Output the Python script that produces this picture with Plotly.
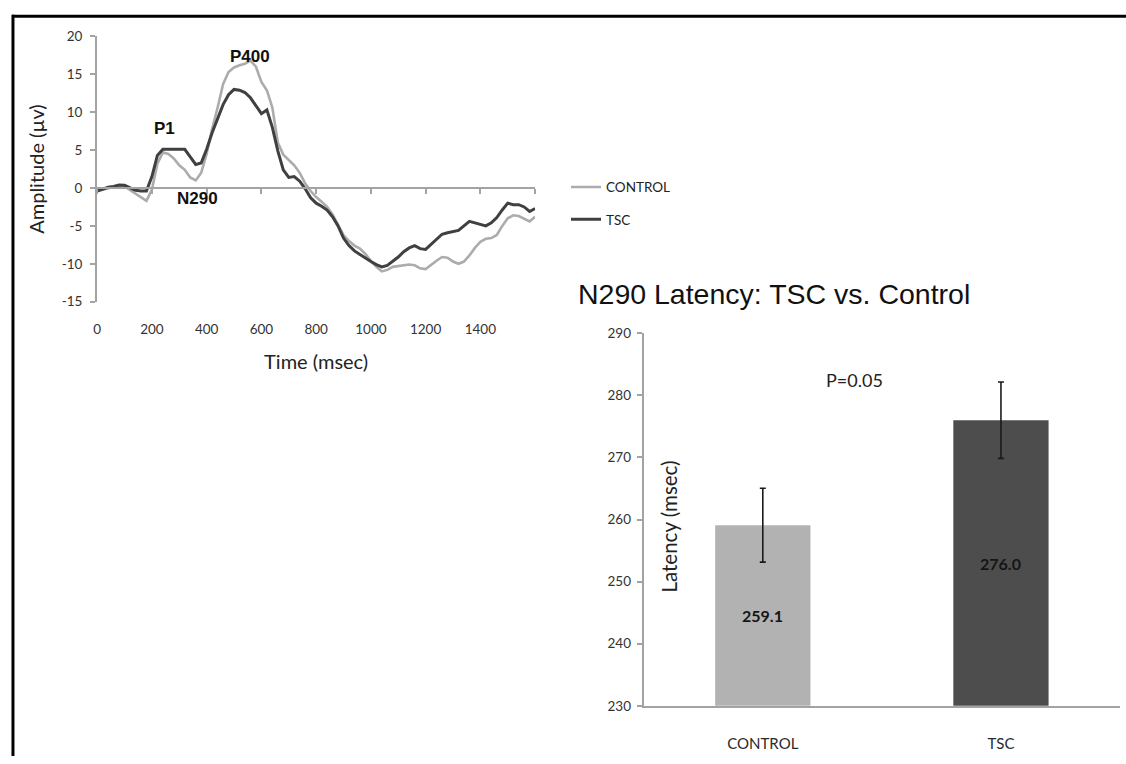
import plotly.graph_objects as go

W, H = 1126, 764

# ---------------- data ----------------
time_ms = list(range(0, 1601, 20))
control_uv = [
    -0.4, -0.2, 0.0, 0.1, 0.3, 0.2, -0.3, -0.8, -1.3, -1.7,
    -0.2, 3.2, 4.7, 4.5, 3.9, 3.0, 2.4, 1.4, 1.0, 2.0,
    4.5, 7.8, 10.6, 13.7, 15.3, 15.9, 16.2, 16.4, 16.8, 16.0,
    14.0, 12.9, 10.6, 6.0, 4.4, 3.7, 3.0, 2.0, 0.6, -0.4,
    -1.2, -1.8, -2.5, -3.5, -4.8, -6.2, -7.0, -7.6, -8.0, -8.7,
    -9.6, -10.4, -11.0, -10.8, -10.4, -10.3, -10.2, -10.1, -10.2, -10.6,
    -10.7, -10.1, -9.6, -9.1, -9.2, -9.7, -10.0, -9.7, -8.9, -7.9,
    -7.1, -6.7, -6.6, -6.2, -5.0, -4.0, -3.6, -3.7, -4.0, -4.4,
    -3.8,
]
tsc_uv = [
    -0.4, -0.1, 0.1, 0.2, 0.4, 0.35, 0.0, -0.3, -0.4, -0.4,
    1.5, 4.3, 5.1, 5.1, 5.1, 5.1, 5.1, 4.1, 3.1, 3.3,
    5.1, 7.3, 9.2, 11.0, 12.3, 13.0, 12.9, 12.6, 11.9, 10.9,
    9.8, 10.3, 8.0, 4.9, 2.4, 1.4, 1.5, 0.9, -0.1, -1.3,
    -2.0, -2.4, -2.9, -3.8, -5.0, -6.6, -7.6, -8.3, -8.8, -9.2,
    -9.7, -10.1, -10.4, -10.2, -9.7, -9.1, -8.4, -7.9, -7.6, -8.0,
    -8.1, -7.4, -6.8, -6.1, -5.9, -5.7, -5.6, -5.0, -4.4, -4.6,
    -4.8, -5.0, -4.6, -3.9, -2.9, -2.0, -2.2, -2.2, -2.5, -3.1,
    -2.7,
]
x_tick_vals = [0, 200, 400, 600, 800, 1000, 1200, 1400]
x_minor_ticks = [0, 200, 400, 600, 800, 1000, 1200, 1400, 1600]
y_tick_vals = [-15, -10, -5, 0, 5, 10, 15, 20]
y_tick_text = ["-15", "-10", "-5", "0", "5", "10", "15", "20"]

peak_labels = ["P1", "P400", "N290"]
peak_x = [246, 560, 365]
peak_y = [7.9, 17.3, -1.4]

groups = ["CONTROL", "TSC"]
latency = [259.1, 276.0]
latency_err = [5.95, 6.15]
latency_text = ["259.1", "276.0"]
bar_y_ticks = [230, 240, 250, 260, 270, 280, 290]
bar_axis_min = 230

# ---------------- helpers (pixel -> paper) ----------------
def px(x):
    return x / W

def py(y):
    return 1 - y / H

CAL = "Lato, 'Open Sans', sans-serif"
ARIAL = "'Liberation Sans', Arial, sans-serif"
AXIS_GRAY = "#a3a3a3"
TICK_COL = "#333333"

fig = go.Figure()

fig.add_trace(go.Scatter(
    x=time_ms, y=control_uv, mode="lines", name="CONTROL",
    line=dict(color="#acacac", width=2.6), xaxis="x", yaxis="y",
    legend="legend",
))
fig.add_trace(go.Scatter(
    x=time_ms, y=tsc_uv, mode="lines", name="TSC",
    line=dict(color="#404040", width=3), xaxis="x3", yaxis="y",
    legend="legend2",
))

fig.add_trace(go.Bar(
    x=groups, y=latency, xaxis="x2", yaxis="y2",
    marker=dict(color=["#b2b2b2", "#4d4d4d"], line=dict(width=0)),
    error_y=dict(type="data", array=latency_err, color="#1a1a1a",
                 thickness=1.6, width=3),
    showlegend=False, cliponaxis=True,
))

fig.update_layout(
    width=W, height=H, autosize=False,
    margin=dict(l=0, r=0, t=0, b=0),
    paper_bgcolor="white", plot_bgcolor="white",
    bargap=0.6,
    xaxis=dict(
        domain=[px(93.5), px(533)], range=[0, 1600],
        tickvals=x_tick_vals, ticks="", showline=False, showgrid=False,
        zeroline=False, tickfont=dict(family=CAL, size=13.5, color=TICK_COL),
        ticklabelstandoff=18, anchor="y",
        title=dict(text="Time (msec)", font=dict(family=CAL, size=20, color="#222"),
                   standoff=18),
    ),
    xaxis3=dict(
        overlaying="x", matches="x", anchor="free",
        position=py(183.8), range=[0, 1600],
        tickvals=x_minor_ticks, ticks="outside", ticklen=5, tickwidth=1.5,
        tickcolor=AXIS_GRAY, showticklabels=False, showline=True,
        linecolor=AXIS_GRAY, linewidth=2, showgrid=False, zeroline=False,
    ),
    yaxis=dict(
        domain=[py(300), py(29)], range=[-15, 20], tickvals=y_tick_vals,
        ticktext=y_tick_text,
        showline=True, linecolor=AXIS_GRAY, linewidth=2, ticks="outside",
        ticklen=5, tickwidth=1.5, tickcolor=AXIS_GRAY, showgrid=False,
        zeroline=False, tickfont=dict(family=CAL, size=13.5, color=TICK_COL),
        ticklabelstandoff=5, anchor="x",
        title=dict(text="Amplitude (µv)", font=dict(family=CAL, size=20, color="#222"),
                   standoff=12),
    ),
    xaxis2=dict(
        domain=[px(642), px(1120)], anchor="y2", showline=True,
        linecolor=AXIS_GRAY, linewidth=2, ticks="", showgrid=False,
        tickfont=dict(family=CAL, size=15, color="#2a2a2a"),
        ticklabelstandoff=23,
    ),
    yaxis2=dict(
        domain=[py(712.7), py(332.3)], range=[bar_axis_min, 290], tickvals=bar_y_ticks,
        anchor="x2", showline=True, linecolor=AXIS_GRAY, linewidth=2,
        ticks="outside", ticklen=5, tickwidth=1.5, tickcolor=AXIS_GRAY,
        showgrid=False, zeroline=False, ticklabelstandoff=3,
        tickfont=dict(family=CAL, size=13.5, color=TICK_COL),
    ),
    title=dict(
        text="N290 Latency: TSC vs. Control",
        font=dict(family=ARIAL, size=28.5, color="#111"),
        x=px(576), xanchor="left", xref="paper",
        y=py(292), yanchor="middle", yref="paper",
    ),
    legend=dict(
        x=px(564), y=py(183), xanchor="left", yanchor="middle",
        font=dict(family=CAL, size=13.5, color="#222"),
        bgcolor="rgba(0,0,0,0)", itemwidth=30,
    ),
    legend2=dict(
        x=px(564), y=py(216), xanchor="left", yanchor="middle",
        font=dict(family=CAL, size=13.5, color="#222"),
        bgcolor="rgba(0,0,0,0)", itemwidth=30,
    ),
)

annotations = []
for lab, xv, yv in zip(peak_labels, peak_x, peak_y):
    annotations.append(dict(
        x=xv, y=yv, xref="x", yref="y", text=lab, showarrow=False,
        font=dict(family=ARIAL, size=17, color="#111", weight="bold"),
        xanchor="center", yanchor="middle",
    ))
# bar value labels, centred in the visible part of each bar
for g, v, t in zip(groups, latency, latency_text):
    annotations.append(dict(
        x=g, y=(bar_axis_min + v) / 2, xref="x2", yref="y2", text=t,
        showarrow=False, font=dict(family=CAL, size=16, color="#151515", weight="bold"),
        xanchor="center", yanchor="middle",
    ))
annotations.append(dict(
    x=px(854), y=py(380), xref="paper", yref="paper", text="P=0.05",
    showarrow=False, font=dict(family=CAL, size=18, color="#222"),
    xanchor="center", yanchor="middle",
))
annotations.append(dict(
    x=px(667), y=py(530), xref="paper", yref="paper", text="Latency (msec)",
    showarrow=False, textangle=-90, font=dict(family=CAL, size=20.5, color="#222"),
    xanchor="center", yanchor="middle",
))
fig.update_layout(annotations=annotations)

# outer frame (top and left edges visible)
fig.add_shape(type="line", xref="paper", yref="paper",
              x0=px(8), x1=1, y0=py(8.5), y1=py(8.5),
              line=dict(color="black", width=3))
fig.add_shape(type="line", xref="paper", yref="paper",
              x0=px(9), x1=px(9), y0=py(7), y1=0,
              line=dict(color="black", width=3))

fig.write_html("out.html")
